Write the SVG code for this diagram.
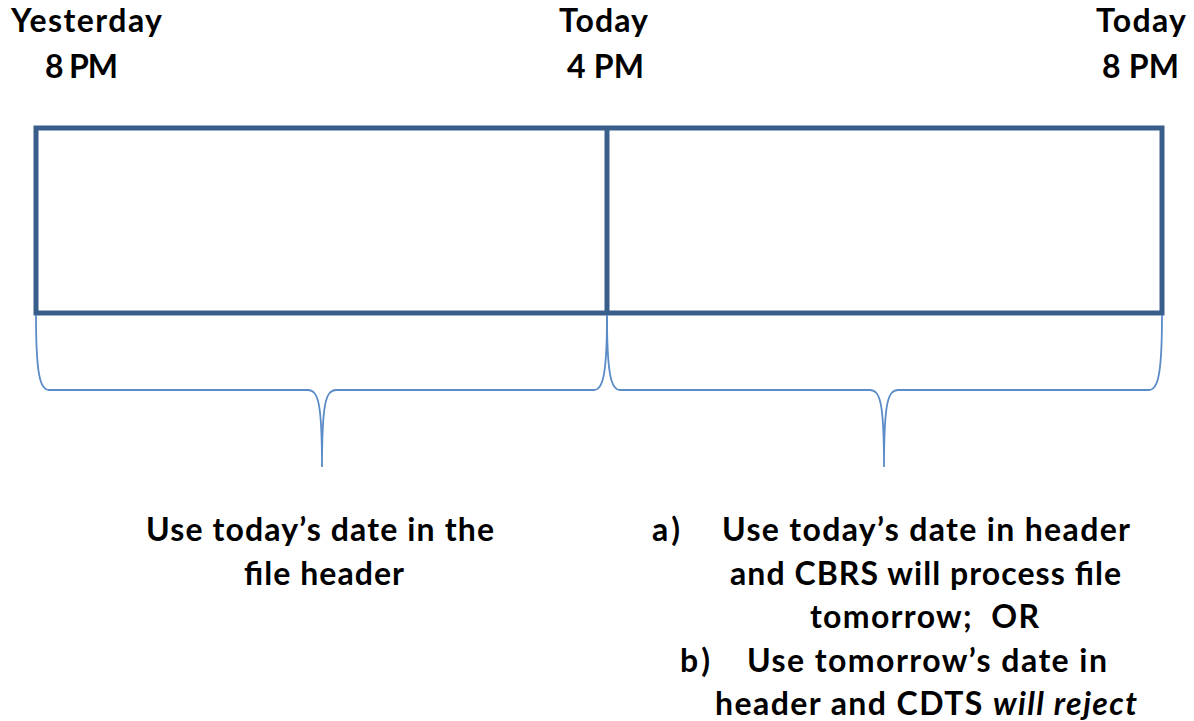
<svg xmlns="http://www.w3.org/2000/svg" width="1194" height="721" viewBox="0 0 1194 721">
<style>
.t{font-family:Lato,"Liberation Sans",sans-serif;font-weight:700;font-size:32px;fill:#000}
.box{fill:none;stroke:#3A5E8C;stroke-width:5}
.brace{fill:none;stroke:#5B8CC8;stroke-width:1.8}
</style>
<rect width="1194" height="721" fill="#fff"/>
<g id="labels-top">
<text class="t" x="11" y="32" textLength="151">Yesterday</text>
<text class="t" x="45" y="78" textLength="73">8 PM</text>
<text class="t" x="559" y="32" textLength="89">Today</text>
<text class="t" x="567" y="78" textLength="77">4 PM</text>
<text class="t" x="1096" y="32" textLength="90">Today</text>
<text class="t" x="1102" y="78" textLength="77">8 PM</text>
</g>
<g id="timeline">
<rect class="box" x="36" y="128" width="1126" height="185"/>
<line class="box" x1="607" y1="128" x2="607" y2="313"/>
</g>
<g id="connectors">
<path class="brace" d="M36,315 C36,374 40,390 49,390 L308,390 C318,390 322,402 322,467 C322,402 326,390 336,390 L594,390 C603,390 607,374 607,315"/>
<path class="brace" d="M607,315 C607,374 611,390 620,390 L870,390 C880,390 884,402 884,467 C884,402 888,390 898,390 L1149,390 C1158,390 1162,374 1162,315"/>
</g>
<g id="note-left">
<text class="t" x="146" y="541" textLength="348">Use today’s date in the</text>
<text class="t" x="244" y="585" textLength="160">file header</text>
</g>
<g id="note-right">
<text class="t" x="652" y="541" textLength="28">a)</text>
<text class="t" x="722" y="541" textLength="408">Use today’s date in header</text>
<text class="t" x="730" y="585" textLength="391">and CBRS will process file</text>
<text class="t" x="810" y="628" textLength="229" xml:space="preserve">tomorrow;  OR</text>
<text class="t" x="680" y="672" textLength="30">b)</text>
<text class="t" x="747" y="672" textLength="360">Use tomorrow’s date in</text>
<text class="t" x="715" y="715" textLength="422">header and CDTS <tspan font-style="italic">will reject</tspan></text>
</g>
</svg>
